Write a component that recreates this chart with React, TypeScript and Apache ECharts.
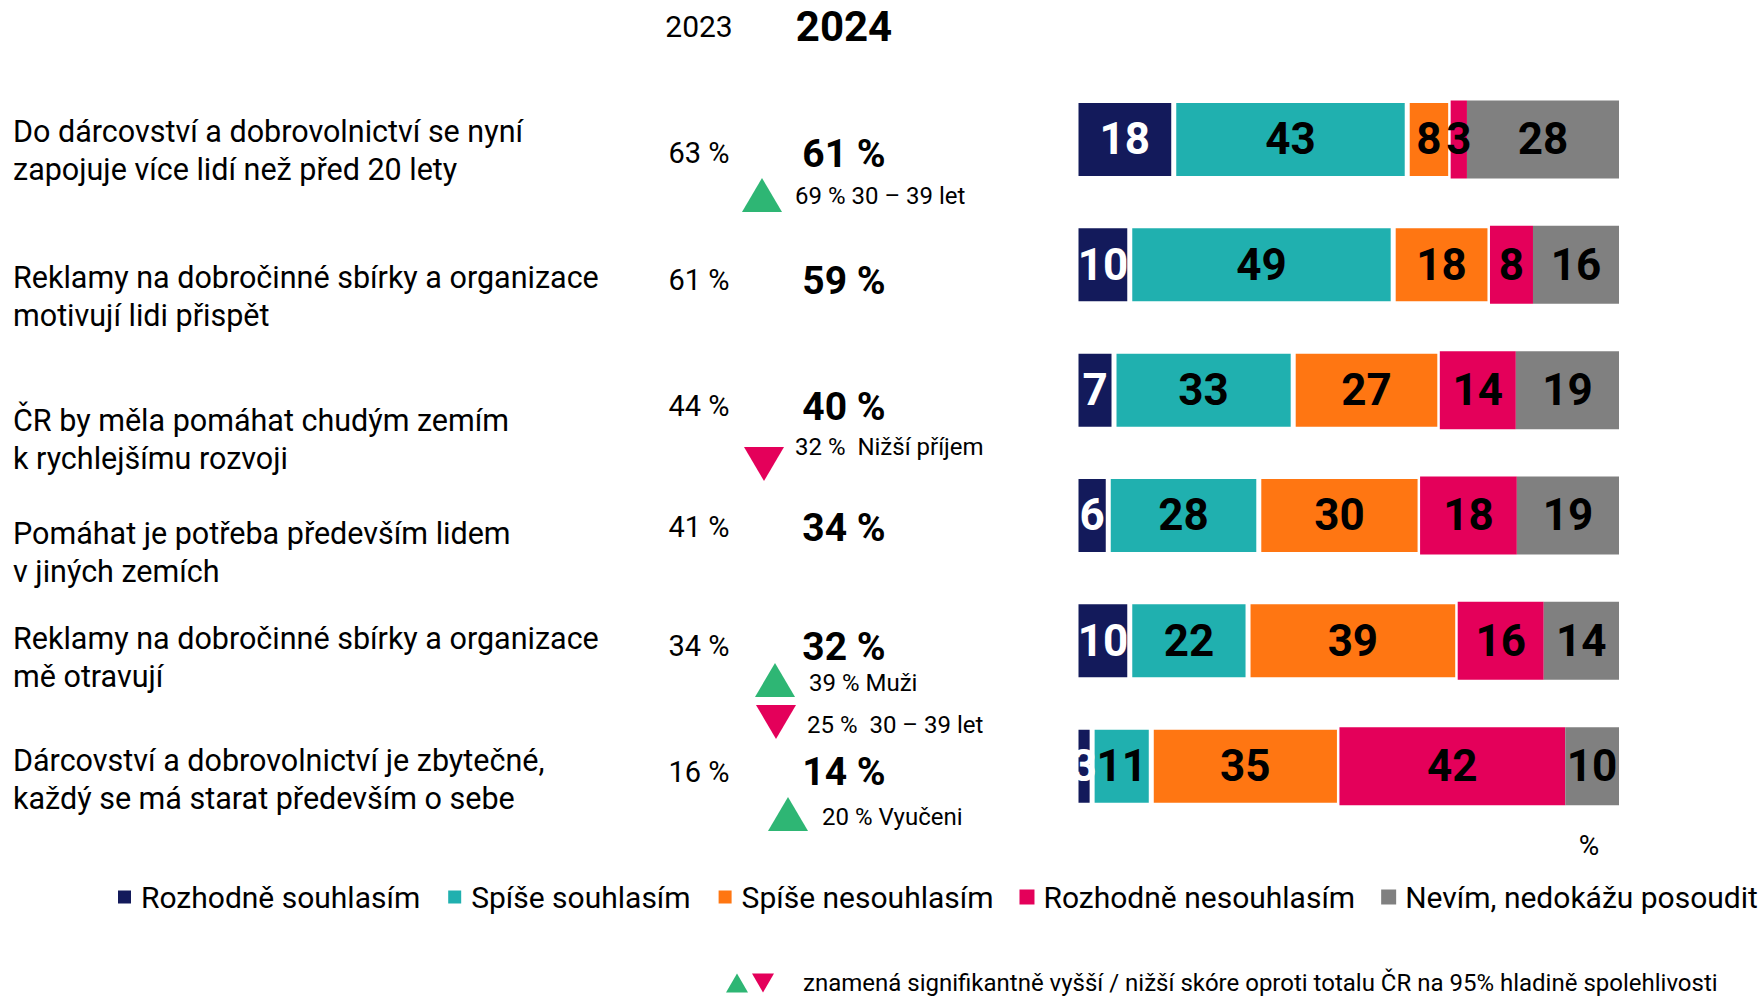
import React, { useEffect, useRef } from "react";
import * as echarts from "echarts";

// ---------- DATA ----------
const statements = [
  "Do dárcovství a dobrovolnictví se nyní\nzapojuje více lidí než před 20 lety",
  "Reklamy na dobročinné sbírky a organizace\nmotivují lidi přispět",
  "ČR by měla pomáhat chudým zemím\nk rychlejšímu rozvoji",
  "Pomáhat je potřeba především lidem\nv jiných zemích",
  "Reklamy na dobročinné sbírky a organizace\nmě otravují",
  "Dárcovství a dobrovolnictví je zbytečné,\nkaždý se má starat především o sebe",
];
const seriesNames = [
  "Rozhodně souhlasím",
  "Spíše souhlasím",
  "Spíše nesouhlasím",
  "Rozhodně nesouhlasím",
  "Nevím, nedokážu posoudit",
];
const rozhodneSouhlasim = [18, 10, 7, 6, 10, 3];
const spiseSouhlasim = [43, 49, 33, 28, 22, 11];
const spiseNesouhlasim = [8, 18, 27, 30, 39, 35];
const rozhodneNesouhlasim = [3, 8, 14, 18, 16, 42];
const nevim = [28, 16, 19, 19, 14, 10];

const yearHeaders = ["2023", "2024"];
const agree2023 = [63, 61, 44, 41, 34, 16];
const agree2024 = [61, 59, 40, 34, 32, 14];

// significance notes
const sigRow = [0, 2, 4, 4, 5];
const sigDir = ["up", "down", "up", "down", "up"];
const sigText = ["69 % 30 – 39 let", "32 %  Nižší příjem", "39 % Muži", "25 %  30 – 39 let", "20 % Vyučeni"];

const unitLabel = "%";
const footnote = "znamená signifikantně vyšší / nižší skóre oproti totalu ČR na 95% hladině spolehlivosti";

// ---------- STYLE / LAYOUT ----------
const colors = ["#131A5B", "#20B0AF", "#FF7612", "#E4005A", "#808080"];
const labelColors = ["#ffffff", "#000000", "#000000", "#000000", "#000000"];
const borderWidths = [2.5, 2.5, 2.5, 0, 0];
const green = "#2EB674";
const red = "#E4005A";
const FONT = "Roboto, 'Noto Sans', sans-serif";

const statementY = [150, 296, 439, 552, 657, 779];
const valueY2023 = [153, 280, 406, 527, 646, 772];
const valueY2024 = [153.5, 281, 407, 528, 647, 772];
const sigTriX = [762, 764, 775, 776, 788];
const sigTriY = [195, 464, 680, 722, 814];
const sigTextX = [795, 795, 809, 807, 822];
const sigTextY = [196, 447, 683, 725, 817];

function tri(cx: number, cy: number, dir: string, w: number, h: number, fill: string) {
  const pts =
    dir === "up"
      ? [[cx - w / 2, cy + h / 2], [cx + w / 2, cy + h / 2], [cx, cy - h / 2]]
      : [[cx - w / 2, cy - h / 2], [cx + w / 2, cy - h / 2], [cx, cy + h / 2]];
  return { type: "polygon", shape: { points: pts }, style: { fill } };
}

export default function App() {
  const ref = useRef<HTMLDivElement>(null);

  useEffect(() => {
    if (!ref.current) return;
    const chart = echarts.init(ref.current, undefined, { renderer: "svg" });

    const rows = [rozhodneSouhlasim, spiseSouhlasim, spiseNesouhlasim, rozhodneNesouhlasim, nevim];
    const totals = statements.map((_, i) => rows.reduce((s, arr) => s + arr[i], 0));

    const series = rows.map((arr, si) => ({
      name: seriesNames[si],
      type: "bar",
      stack: "total",
      barWidth: 78,
      itemStyle: { color: colors[si], borderColor: "#ffffff", borderWidth: borderWidths[si] },
      label: {
        show: true,
        position: "inside",
        color: labelColors[si],
        fontFamily: FONT,
        fontWeight: "bold",
        fontSize: 44,
        formatter: (p: any) => String(arr[p.dataIndex]),
      },
      data: arr.map((v, i) => (v / totals[i]) * 100),
    }));

    const graphics: any[] = [];
    graphics.push({
      type: "text", x: 699, y: 26,
      style: { text: yearHeaders[0], fontFamily: FONT, fontSize: 30, fill: "#000", align: "center", verticalAlign: "middle" },
    });
    graphics.push({
      type: "text", x: 844, y: 26,
      style: { text: yearHeaders[1], fontFamily: FONT, fontSize: 42, fontWeight: "bold", fill: "#000", align: "center", verticalAlign: "middle" },
    });
    statements.forEach((s, i) => {
      graphics.push({
        type: "text", x: 13, y: statementY[i],
        style: { text: s, fontFamily: FONT, fontSize: 30.5, lineHeight: 38, fill: "#000", align: "left", verticalAlign: "middle" },
      });
      graphics.push({
        type: "text", x: 699, y: valueY2023[i],
        style: { text: agree2023[i] + " %", fontFamily: FONT, fontSize: 29, fill: "#000", align: "center", verticalAlign: "middle" },
      });
      graphics.push({
        type: "text", x: 844, y: valueY2024[i],
        style: { text: agree2024[i] + " %", fontFamily: FONT, fontSize: 39, fontWeight: "bold", fill: "#000", align: "center", verticalAlign: "middle" },
      });
    });
    sigText.forEach((t, k) => {
      graphics.push(tri(sigTriX[k], sigTriY[k], sigDir[k], 40, 34, sigDir[k] === "up" ? green : red));
      graphics.push({
        type: "text", x: sigTextX[k], y: sigTextY[k],
        style: { text: t, fontFamily: FONT, fontSize: 24, fill: "#000", align: "left", verticalAlign: "middle" },
      });
    });
    graphics.push({
      type: "text", x: 1589, y: 845,
      style: { text: unitLabel, fontFamily: FONT, fontSize: 28, fill: "#000", align: "center", verticalAlign: "middle" },
    });
    graphics.push(tri(737, 983, "up", 22, 19, green));
    graphics.push(tri(763, 983, "down", 22, 19, red));
    graphics.push({
      type: "text", x: 803, y: 983,
      style: { text: footnote, fontFamily: FONT, fontSize: 24, lineHeight: 24, fill: "#000", align: "left", verticalAlign: "middle" },
    });

    chart.setOption({
      animation: false,
      backgroundColor: "#ffffff",
      grid: { left: 1076, right: 143, top: 76.8, bottom: 168.2, containLabel: false },
      xAxis: { type: "value", min: 0, max: 100, show: false },
      yAxis: { type: "category", inverse: true, data: statements, show: false },
      legend: {
        left: 116,
        top: 882,
        padding: 0,
        icon: "rect",
        itemWidth: 15,
        itemHeight: 15,
        itemGap: 26,
        textStyle: { fontFamily: FONT, fontSize: 30, color: "#000", lineHeight: 30, padding: [0, 0, 0, 4] },
        data: seriesNames,
        selectedMode: false,
      },
      series,
      graphic: graphics,
    });

    return () => chart.dispose();
  }, []);

  return (
    <div
      ref={ref}
      style={{ position: "fixed", left: 0, top: 0, width: 1762, height: 997, background: "#fff" }}
    />
  );
}
